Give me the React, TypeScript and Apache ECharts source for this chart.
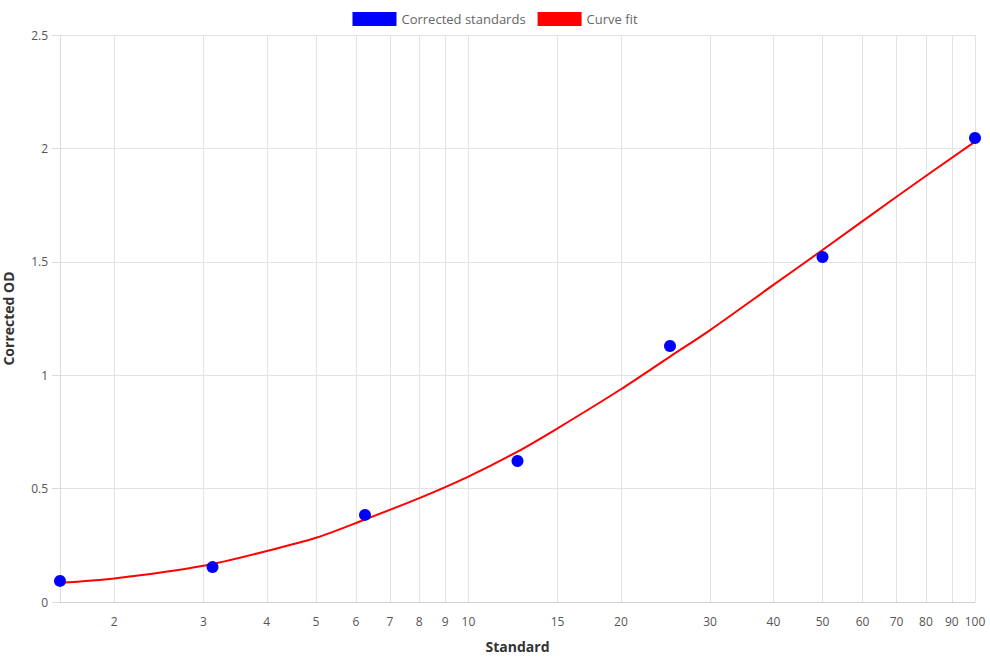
import React, { useEffect, useRef } from "react";
import * as echarts from "echarts";

const standards = [1.5625, 3.125, 6.25, 12.5, 25, 50, 100];
const correctedOD = [0.093, 0.154, 0.384, 0.622, 1.129, 1.521, 2.046];

const fitX = [1.5625, 2, 3, 4, 5, 6.25, 8, 10, 12.5, 15, 20, 25, 30, 40, 50, 70, 100];
const fitY = [0.085, 0.104, 0.16, 0.225, 0.283, 0.364, 0.458, 0.553, 0.663, 0.766, 0.938, 1.082, 1.199, 1.398, 1.552, 1.787, 2.03];

const xTickValues = [2, 3, 4, 5, 6, 7, 8, 9, 10, 15, 20, 30, 40, 50, 60, 70, 80, 90, 100];

const FONT = "Open Sans";

export default function App() {
  const ref = useRef<HTMLDivElement>(null);
  useEffect(() => {
    if (!ref.current) return;
    const chart = echarts.init(ref.current, null, { renderer: "svg" });
    chart.setOption({
      animation: false,
      textStyle: { fontFamily: FONT },
      legend: {
        top: 7,
        left: "center",
        itemWidth: 44,
        itemHeight: 14,
        itemGap: 12,
        textStyle: { color: "#666", fontSize: 13, fontFamily: FONT },
        data: [
          { name: "Corrected standards", icon: "rect", itemStyle: { color: "#0000ff", opacity: 1 } },
          { name: "Curve fit", icon: "rect", itemStyle: { color: "#ff0000" } },
        ],
      },
      grid: { left: 60, right: 15, top: 35, bottom: 58, containLabel: false, outerBoundsMode: "none" },
      xAxis: {
        type: "log",
        logBase: 10,
        min: 1.5625,
        max: 100,
        name: "Standard",
        nameLocation: "middle",
        nameGap: 37,
        nameTextStyle: { color: "#333", fontWeight: "bold", fontSize: 14, fontFamily: FONT },
        axisLine: { show: true, lineStyle: { color: "#cfcfcf" } },
        axisTick: { show: false, customValues: xTickValues },
        axisLabel: {
          customValues: xTickValues,
          color: "#555",
          fontSize: 12,
          margin: 13,
          formatter: (v: number) => String(Math.round(v * 1000) / 1000),
        },
        splitLine: { show: true, lineStyle: { color: "#e3e3e3" } },
      },
      yAxis: {
        type: "value",
        min: 0,
        max: 2.5,
        interval: 0.5,
        name: "Corrected OD",
        nameLocation: "middle",
        nameGap: 45,
        nameTextStyle: { color: "#333", fontWeight: "bold", fontSize: 14, fontFamily: FONT },
        axisLine: { show: true, lineStyle: { color: "#dcdcdc" } },
        axisTick: { show: true, length: 8, lineStyle: { color: "#dcdcdc" } },
        axisLabel: { color: "#555", fontSize: 12, margin: 12 },
        splitLine: { show: true, lineStyle: { color: "#e3e3e3" } },
      },
      series: [
        {
          name: "Curve fit",
          type: "line",
          data: fitX.map((x, i) => [x, fitY[i]]),
          smooth: 0.3,
          showSymbol: false,
          lineStyle: { color: "#ff0000", width: 2 },
          itemStyle: { color: "#ff0000" },
          z: 2,
        },
        {
          name: "Corrected standards",
          type: "scatter",
          data: standards.map((x, i) => [x, correctedOD[i]]),
          symbolSize: 12,
          itemStyle: { color: "#0000ff", opacity: 1 },
          z: 3,
        },
      ],
    });
    return () => chart.dispose();
  }, []);
  return <div ref={ref} style={{ width: 990, height: 660, position: "absolute", left: 0, top: 0 }} />;
}
